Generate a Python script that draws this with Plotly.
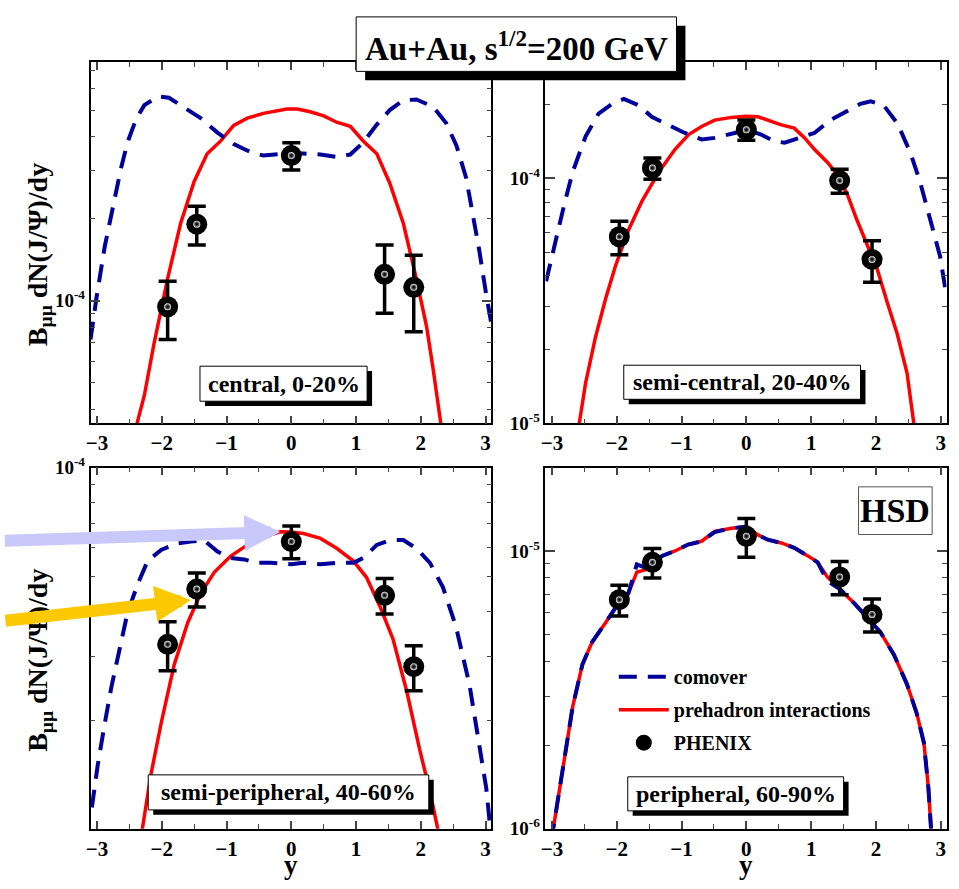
import numpy as np
import plotly.graph_objects as go

FONT = "Liberation Serif"
W, H = 959, 889

# ---------------- PHENIX points: rapidity, B_mumu dN/dy, error ----------------
cent_y = [-1.91, -1.46, 0.0, 1.44, 1.89]
cent_phenix = [9.5e-5, 1.91e-4, 3.41e-4, 1.25e-4, 1.12e-4]
cent_err = [2.3e-5, 3.1e-5, 3.9e-5, 3.5e-5, 3.5e-5]

semic_y = [-1.96, -1.45, 0.0, 1.44, 1.94]
semic_phenix = [5.78e-5, 1.103e-4, 1.58e-4, 9.8e-5, 4.67e-5]
semic_err = [9e-6, 1.1e-5, 1.5e-5, 1.1e-5, 9e-6]

semip_y = [-1.91, -1.46, 0.0, 1.44, 1.89]
semip_phenix = [3.24e-5, 4.61e-5, 6.24e-5, 4.43e-5, 2.81e-5]
semip_err = [5e-6, 5e-6, 6.5e-6, 5e-6, 4e-6]

peri_y = [-1.96, -1.45, 0.0, 1.44, 1.94]
peri_phenix = [6.68e-6, 9.1e-6, 1.13e-5, 8.06e-6, 5.91e-6]
peri_err = [8.5e-7, 1.1e-6, 1.8e-6, 1.1e-6, 8e-7]

# ---------------- HSD: prehadron interactions ----------------
cent_pre_y = [-2.45, -2.38, -2.27, -2.12, -1.91, -1.71, -1.50, -1.30, -1.09, -0.89, -0.68, -0.43,
              -0.07, 0.09, 0.29, 0.50, 0.70, 0.91, 1.11, 1.32, 1.52, 1.73, 1.93, 2.09, 2.19, 2.30, 2.36]
cent_pre = [2.9e-5, 3.56e-5, 4.49e-5, 6.96e-5, 1.205e-4, 1.92e-4, 2.74e-4, 3.46e-4, 3.86e-4, 4.40e-4,
            4.68e-4, 4.87e-4, 5.05e-4, 5.05e-4, 4.94e-4, 4.77e-4, 4.52e-4, 4.37e-4, 3.86e-4, 3.46e-4,
            2.70e-4, 1.92e-4, 1.205e-4, 8.0e-5, 5.6e-5, 3.56e-5, 2.9e-5]

semic_pre_y = [-2.62, -2.58, -2.48, -2.33, -2.17, -2.02, -1.82, -1.61, -1.35, -1.10, -0.89, -0.69,
               -0.49, -0.23, 0.0, 0.18, 0.38, 0.54, 0.74, 0.90, 1.05, 1.25, 1.41, 1.56, 1.71, 1.87,
               2.02, 2.17, 2.33, 2.48, 2.58, 2.62]
semic_pre = [8.5e-6, 1.0e-5, 1.465e-5, 2.24e-5, 3.24e-5, 4.39e-5, 6.14e-5, 8.08e-5, 1.063e-4, 1.315e-4,
             1.51e-4, 1.63e-4, 1.73e-4, 1.775e-4, 1.795e-4, 1.785e-4, 1.704e-4, 1.654e-4, 1.604e-4,
             1.464e-4, 1.315e-4, 1.165e-4, 1.031e-4, 8.58e-5, 6.73e-5, 5.27e-5, 4.26e-5, 3.14e-5,
             2.31e-5, 1.605e-5, 1.0e-5, 8.5e-6]

semip_pre_y = [-2.35, -2.30, -2.17, -2.01, -1.81, -1.60, -1.40, -1.19, -0.94, -0.68, -0.43, -0.17,
               0.0, 0.19, 0.45, 0.70, 0.96, 1.16, 1.37, 1.57, 1.78, 1.98, 2.14, 2.26, 2.30]
semip_pre = [8.5e-6, 1.0e-5, 1.406e-5, 1.959e-5, 2.84e-5, 3.72e-5, 4.48e-5, 5.13e-5, 5.68e-5, 6.11e-5,
             6.43e-5, 6.64e-5, 6.63e-5, 6.57e-5, 6.37e-5, 5.98e-5, 5.51e-5, 4.97e-5, 4.12e-5, 3.35e-5,
             2.41e-5, 1.66e-5, 1.268e-5, 1.0e-5, 8.8e-6]

peri_pre_y = [-3.02, -2.98, -2.84, -2.68, -2.53, -2.38, -2.17, -2.02, -1.82, -1.69, -1.51, -1.30,
              -1.10, -0.90, -0.69, -0.49, -0.23, 0.0, 0.18, 0.33, 0.54, 0.74, 0.95, 1.10, 1.25, 1.46,
              1.66, 1.87, 2.07, 2.28, 2.48, 2.63, 2.74, 2.81, 2.85]
peri_pre = [9.0e-7, 1.0e-6, 1.60e-6, 2.75e-6, 3.90e-6, 4.70e-6, 5.53e-6, 6.24e-6, 7.04e-6, 8.39e-6,
            8.62e-6, 9.60e-6, 1.0e-5, 1.055e-5, 1.084e-5, 1.176e-5, 1.207e-5, 1.224e-5, 1.143e-5,
            1.098e-5, 1.069e-5, 1.027e-5, 9.60e-6, 9.10e-6, 8.06e-6, 7.24e-6, 6.50e-6, 5.75e-6,
            5.10e-6, 4.22e-6, 3.31e-6, 2.60e-6, 2.04e-6, 1.40e-6, 1.0e-6]

# ---------------- HSD: comover absorption ----------------
cent_com_y = [-3.10, -3.01, -2.88, -2.78, -2.63, -2.53, -2.40, -2.27, -2.06, -1.89, -1.66, -1.40,
              -1.14, -0.89, -0.63, -0.43, 0.0, 0.45, 0.70, 0.91, 1.11, 1.32, 1.52, 1.73, 1.93, 2.19,
              2.39, 2.55, 2.70, 2.80, 2.90, 3.01, 3.09]
cent_com = [7.2e-5, 1.02e-4, 1.585e-4, 2.085e-4, 3.06e-4, 3.81e-4, 4.62e-4, 5.22e-4, 5.62e-4, 5.56e-4,
            5.15e-4, 4.68e-4, 4.14e-4, 3.76e-4, 3.51e-4, 3.41e-4, 3.49e-4, 3.44e-4, 3.37e-4, 3.44e-4,
            3.81e-4, 4.43e-4, 5.01e-4, 5.44e-4, 5.48e-4, 5.15e-4, 4.49e-4, 3.71e-4, 2.82e-4, 2.085e-4,
            1.54e-4, 1.05e-4, 8.2e-5]

semic_com_y = [-3.09, -2.97, -2.81, -2.68, -2.48, -2.28, -2.07, -1.89, -1.66, -1.46, -1.20, -0.95,
               -0.69, -0.49, -0.18, 0.0, 0.23, 0.43, 0.59, 0.84, 1.05, 1.30, 1.56, 1.76, 1.92, 2.12,
               2.33, 2.53, 2.68, 2.84, 2.99, 3.07]
semic_com = [3.8e-5, 5.27e-5, 7.83e-5, 1.063e-4, 1.486e-4, 1.84e-4, 2.017e-4, 2.11e-4, 1.986e-4,
             1.784e-4, 1.654e-4, 1.533e-4, 1.442e-4, 1.464e-4, 1.533e-4, 1.58e-4, 1.51e-4, 1.419e-4,
             1.399e-4, 1.464e-4, 1.533e-4, 1.731e-4, 1.897e-4, 2.017e-4, 2.065e-4, 1.986e-4, 1.68e-4,
             1.277e-4, 9.7e-5, 6.73e-5, 4.81e-5, 3.55e-5]

semip_com_y = [-3.08, -2.99, -2.88, -2.78, -2.65, -2.53, -2.37, -2.22, -2.01, -1.76, -1.55, -1.35,
               -1.14, -0.94, -0.73, -0.53, -0.32, 0.0, 0.19, 0.45, 0.70, 0.96, 1.11, 1.32, 1.52, 1.73,
               1.93, 2.14, 2.34, 2.54, 2.75, 2.90, 3.01, 3.07]
semip_com = [1.144e-5, 1.496e-5, 1.959e-5, 2.46e-5, 3.15e-5, 3.96e-5, 4.77e-5, 5.51e-5, 5.92e-5,
             6.17e-5, 6.24e-5, 6.30e-5, 5.86e-5, 5.62e-5, 5.57e-5, 5.45e-5, 5.45e-5, 5.40e-5, 5.45e-5,
             5.40e-5, 5.45e-5, 5.45e-5, 5.62e-5, 6.11e-5, 6.30e-5, 6.30e-5, 5.98e-5, 5.45e-5, 4.67e-5,
             3.64e-5, 2.51e-5, 1.73e-5, 1.294e-5, 1.01e-5]

peri_com_y = peri_pre_y
peri_com = [9.0e-7, 1.0e-6, 1.60e-6, 2.75e-6, 3.90e-6, 4.70e-6, 5.53e-6, 6.24e-6, 7.04e-6, 8.95e-6,
            8.62e-6, 9.60e-6, 1.0e-5, 1.055e-5, 1.084e-5, 1.17e-5, 1.207e-5, 1.224e-5, 1.143e-5,
            1.098e-5, 1.069e-5, 1.027e-5, 9.60e-6, 9.10e-6, 7.8e-6, 7.24e-6, 6.50e-6, 5.75e-6,
            5.10e-6, 4.22e-6, 3.31e-6, 2.60e-6, 2.04e-6, 1.40e-6, 1.0e-6]

x_ticks = [-3, -2, -1, 0, 1, 2, 3]

# panel settings: data, axis id, log10 range of the y axis, labelled decades
panels = [
    dict(ax="", y=cent_y, v=cent_phenix, e=cent_err, py=cent_pre_y, p=cent_pre,
         cy=cent_com_y, c=cent_com, yr=[-4.45, -3.125], dec=[1e-4]),
    dict(ax="2", y=semic_y, v=semic_phenix, e=semic_err, py=semic_pre_y, p=semic_pre,
         cy=semic_com_y, c=semic_com, yr=[-5.0, -3.526], dec=[1e-5, 1e-4]),
    dict(ax="3", y=semip_y, v=semip_phenix, e=semip_err, py=semip_pre_y, p=semip_pre,
         cy=semip_com_y, c=semip_com, yr=[-5.0, -4.0], dec=[1e-4]),
    dict(ax="4", y=peri_y, v=peri_phenix, e=peri_err, py=peri_pre_y, p=peri_pre,
         cy=peri_com_y, c=peri_com, yr=[-6.0, -4.70], dec=[1e-6, 1e-5]),
]

# pixel frames of the four panels (left, right, top, bottom)
frames = [(86, 489, 50.7, 421.7), (543.3, 946.5, 50.7, 421.7),
          (86, 489, 467.3, 838.3), (543.3, 946.5, 467.3, 838.3)]

RED = "#ff0000"
BLUE = "#00009c"

fig = go.Figure()
layout_axes = {}
for i, (pn, fr) in enumerate(zip(panels, frames)):
    xa, ya = "x" + pn["ax"], "y" + pn["ax"]
    first = i == 0
    fig.add_trace(go.Scatter(x=pn["py"], y=pn["p"], xaxis=xa, yaxis=ya, mode="lines",
                             line=dict(color=RED, width=3.5), name="prehadron interactions",
                             legendgroup="pre", legendrank=2, showlegend=first))
    fig.add_trace(go.Scatter(x=pn["cy"], y=pn["c"], xaxis=xa, yaxis=ya, mode="lines",
                             line=dict(color=BLUE, width=4, dash="18px,11px"), name="comover",
                             legendgroup="com", legendrank=1, showlegend=first))
    fig.add_trace(go.Scatter(x=pn["y"], y=pn["v"], xaxis=xa, yaxis=ya, mode="markers",
                             marker=dict(size=21, color="black", symbol="circle",
                                         line=dict(width=0)),
                             error_y=dict(type="data", array=pn["e"], color="black",
                                          thickness=3.5, width=9),
                             name="PHENIX", legendgroup="phx", legendrank=3, showlegend=first))
    # specular highlight on the ball markers
    fig.add_trace(go.Scatter(x=pn["y"], y=pn["v"], xaxis=xa, yaxis=ya, mode="markers",
                             marker=dict(size=7, color="#ffffff", line=dict(width=0),
                                         gradient=dict(type="radial", color="rgba(40,40,40,0)")),
                             hoverinfo="skip", showlegend=False))

    l, r, t, b = fr
    lo, hi = pn["yr"]
    minors = [m * 10.0 ** d for d in range(int(np.floor(lo)), int(np.ceil(hi)) + 1)
              for m in range(2, 10) if lo <= np.log10(m * 10.0 ** d) <= hi]
    layout_axes["xaxis" + pn["ax"]] = dict(
        domain=[l / W, r / W], anchor=ya, range=[-3.1, 3.09],
        tickmode="array", tickvals=x_ticks, ticks="inside", ticklen=8, tickwidth=1.5,
        showline=True, linecolor="black", linewidth=1.5, mirror="ticks", showgrid=False,
        zeroline=False, tickfont=dict(family=FONT, size=21, color="black", weight="bold"),
        minor=dict(dtick=0.5, tick0=0, ticks="inside", ticklen=5, tickwidth=1.2, showgrid=False),
    )
    layout_axes["yaxis" + pn["ax"]] = dict(
        domain=[1 - b / H, 1 - t / H], anchor=xa, type="log", range=[lo, hi],
        tickmode="array", tickvals=pn["dec"],
        ticktext=["10<sup>%d</sup>" % int(round(np.log10(v))) for v in pn["dec"]],
        ticks="inside", ticklen=10, tickwidth=1.5,
        showline=True, linecolor="black", linewidth=1.5, mirror="ticks", showgrid=False,
        zeroline=False, tickfont=dict(family=FONT, size=19, color="black", weight="bold"),
        minor=dict(tickvals=minors, ticks="inside", ticklen=5, tickwidth=1.2, showgrid=False),
    )

fig.update_layout(**layout_axes)

shapes = []
ann = []


def boxed(text, l, t, r, b, size, shadow=5, border="black", dy=0):
    """Label box given in pixels: drop shadow, white frame, bold text."""
    if shadow:
        shapes.append(dict(type="rect", xref="paper", yref="paper", layer="above",
                           x0=(l + shadow) / W, x1=(r + shadow) / W,
                           y0=1 - (b + shadow) / H, y1=1 - (t + shadow) / H,
                           fillcolor="black", line=dict(width=0)))
    shapes.append(dict(type="rect", xref="paper", yref="paper", layer="above",
                       x0=l / W, x1=r / W, y0=1 - b / H, y1=1 - t / H,
                       fillcolor="white", line=dict(color=border, width=1)))
    ann.append(dict(text=text, xref="paper", yref="paper", x=(l + r) / 2 / W,
                    y=1 - ((t + b) / 2 + dy) / H, xanchor="center", yanchor="middle",
                    showarrow=False,
                    font=dict(family=FONT, size=size, color="black", weight="bold")))


boxed("Au+Au, s<sup>1/2</sup>=200 GeV", 353, 4, 675, 60, 33, shadow=9, dy=2)
boxed("central, 0-20%", 196, 363, 364, 399, 24)
boxed("semi-central, 20-40%", 622, 362, 860, 397, 24)
boxed("semi-peripheral, 40-60%", 144, 783, 426, 819, 24)
boxed("peripheral, 60-90%", 626, 785, 843, 820, 24)
boxed("HSD", 858, 487, 932, 536, 34, shadow=0, border="#555555")

ytitle = "B<sub>μμ</sub> dN(J/Ψ)/dy"
for cy in (248, 665):
    ann.append(dict(text=ytitle, xref="paper", yref="paper", x=34 / W, y=1 - cy / H,
                    textangle=-90, showarrow=False, xanchor="center", yanchor="middle",
                    font=dict(family=FONT, size=28, color="black", weight="bold")))
for cx in (287.7, 745):
    ann.append(dict(text="y", xref="paper", yref="paper", x=cx / W, y=0,
                    showarrow=False, xanchor="center", yanchor="bottom", yshift=-4,
                    font=dict(family=FONT, size=27, color="black", weight="bold")))

# arrows pointing into the semi-peripheral panel
peak = int(np.argmax(semip_pre))
ann.append(dict(x=semip_pre_y[peak], y=np.log10(semip_pre[peak]), xref="x3", yref="y3",
                text="", showarrow=True, arrowhead=2, arrowsize=0.6, arrowwidth=12,
                arrowcolor="#c8c8fa", ax=-277, ay=9, standoff=0))
ann.append(dict(x=semip_y[1] - 0.09, y=np.log10(semip_phenix[1]) - 0.03, xref="x3", yref="y3",
                text="", showarrow=True, arrowhead=2, arrowsize=0.6, arrowwidth=12,
                arrowcolor="#fcc800", ax=-187, ay=21, standoff=0))

fig.update_layout(
    width=W, height=H, margin=dict(l=0, r=0, t=0, b=0),
    paper_bgcolor="white", plot_bgcolor="white",
    font=dict(family=FONT, color="black"),
    annotations=ann, shapes=shapes,
    legend=dict(x=612 / W, y=1 - 662 / H, xanchor="left", yanchor="top",
                bgcolor="rgba(0,0,0,0)", font=dict(family=FONT, size=20, color="black", weight="bold"),
                itemwidth=50, tracegroupgap=4, traceorder="grouped"),
)

fig.write_html("out.html")
